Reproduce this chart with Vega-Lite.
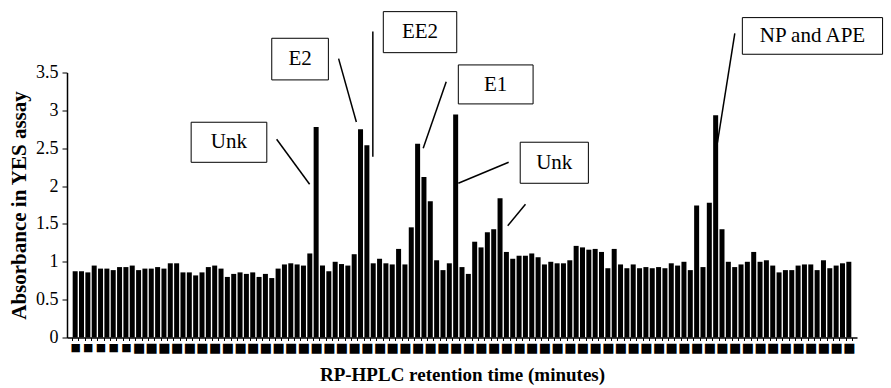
{
  "$schema": "https://vega.github.io/schema/vega-lite/v6.json",
  "width": 790,
  "height": 265,
  "autosize": {"type": "none"},
  "padding": {"left": 67, "top": 72.5, "right": 34, "bottom": 50.5},
  "background": "white",
  "config": {"view": {"stroke": null}},
  "resolve": {"axis": {"x": "independent", "y": "independent"}},
  "datasets": {
    "bars": [
      {"n":1,"v":0.875},{"n":2,"v":0.875},{"n":3,"v":0.86},{"n":4,"v":0.95},{"n":5,"v":0.91},{"n":6,"v":0.91},{"n":7,"v":0.89},{"n":8,"v":0.93},{"n":9,"v":0.93},{"n":10,"v":0.95},
      {"n":11,"v":0.89},{"n":12,"v":0.91},{"n":13,"v":0.91},{"n":14,"v":0.93},{"n":15,"v":0.91},{"n":16,"v":0.98},{"n":17,"v":0.98},{"n":18,"v":0.86},{"n":19,"v":0.86},{"n":20,"v":0.82},
      {"n":21,"v":0.86},{"n":22,"v":0.93},{"n":23,"v":0.95},{"n":24,"v":0.91},{"n":25,"v":0.80},{"n":26,"v":0.84},{"n":27,"v":0.86},{"n":28,"v":0.84},{"n":29,"v":0.86},{"n":30,"v":0.80},
      {"n":31,"v":0.84},{"n":32,"v":0.785},{"n":33,"v":0.91},{"n":34,"v":0.965},{"n":35,"v":0.98},{"n":36,"v":0.965},{"n":37,"v":0.95},{"n":38,"v":1.11},{"n":39,"v":2.78},{"n":40,"v":0.95},
      {"n":41,"v":0.875},{"n":42,"v":1.0},{"n":43,"v":0.97},{"n":44,"v":0.95},{"n":45,"v":1.10},{"n":46,"v":2.75},{"n":47,"v":2.54},{"n":48,"v":0.98},{"n":49,"v":1.04},{"n":50,"v":0.98},
      {"n":51,"v":0.965},{"n":52,"v":1.17},{"n":53,"v":0.965},{"n":54,"v":1.455},{"n":55,"v":2.56},{"n":56,"v":2.12},{"n":57,"v":1.80},{"n":58,"v":1.02},{"n":59,"v":0.89},{"n":60,"v":0.98},
      {"n":61,"v":2.945},{"n":62,"v":0.93},{"n":63,"v":0.84},{"n":64,"v":1.265},{"n":65,"v":1.19},{"n":66,"v":1.39},{"n":67,"v":1.43},{"n":68,"v":1.84},{"n":69,"v":1.13},{"n":70,"v":1.04},
      {"n":71,"v":1.08},{"n":72,"v":1.08},{"n":73,"v":1.11},{"n":74,"v":1.06},{"n":75,"v":0.965},{"n":76,"v":1.0},{"n":77,"v":0.98},{"n":78,"v":0.98},{"n":79,"v":1.02},{"n":80,"v":1.21},
      {"n":81,"v":1.19},{"n":82,"v":1.16},{"n":83,"v":1.17},{"n":84,"v":1.13},{"n":85,"v":0.915},{"n":86,"v":1.17},{"n":87,"v":0.965},{"n":88,"v":0.915},{"n":89,"v":0.965},{"n":90,"v":0.915},
      {"n":91,"v":0.93},{"n":92,"v":0.915},{"n":93,"v":0.93},{"n":94,"v":0.915},{"n":95,"v":0.98},{"n":96,"v":0.95},{"n":97,"v":1.0},{"n":98,"v":0.89},{"n":99,"v":1.745},{"n":100,"v":0.93},
      {"n":101,"v":1.78},{"n":102,"v":2.935},{"n":103,"v":1.43},{"n":104,"v":1.0},{"n":105,"v":0.93},{"n":106,"v":0.965},{"n":107,"v":1.0},{"n":108,"v":1.13},{"n":109,"v":1.0},{"n":110,"v":1.02},
      {"n":111,"v":0.95},{"n":112,"v":0.86},{"n":113,"v":0.89},{"n":114,"v":0.89},{"n":115,"v":0.95},{"n":116,"v":0.965},{"n":117,"v":0.965},{"n":118,"v":0.89},{"n":119,"v":1.02},{"n":120,"v":0.915},
      {"n":121,"v":0.95},{"n":122,"v":0.98},{"n":123,"v":1.0}
    ],
    "boxes": [
      {"label":"Unk","n":19.29,"n2":31.22,"v":2.843,"v2":2.314,"nc":25.25,"vc":2.58},
      {"label":"E2","n":32.0,"n2":40.93,"v":3.952,"v2":3.402,"nc":36.47,"vc":3.68},
      {"label":"EE2","n":49.59,"n2":61.17,"v":4.304,"v2":3.762,"nc":55.38,"vc":4.03},
      {"label":"E1","n":61.42,"n2":73.21,"v":3.6,"v2":3.085,"nc":67.3,"vc":3.34},
      {"label":"Unk","n":71.18,"n2":81.93,"v":2.579,"v2":2.037,"nc":76.55,"vc":2.31},
      {"label":"NP and APE","n":106.21,"n2":128.32,"v":4.225,"v2":3.741,"nc":117.27,"vc":3.98}
    ],
    "leaders": [
      {"n":32.77,"v":2.618,"n2":37.97,"v2":2.024},
      {"n":42.54,"v":3.683,"n2":45.34,"v2":2.847},
      {"n":47.94,"v":4.04,"n2":47.94,"v2":2.388},
      {"n":59.51,"v":3.379,"n2":55.88,"v2":2.499},
      {"n":69.36,"v":2.314,"n2":61.42,"v2":2.037},
      {"n":72.01,"v":1.76,"n2":69.21,"v2":1.477},
      {"n":105.02,"v":4.018,"n2":102.28,"v2":2.573}
    ]
  },
  "layer": [
    {
      "data": {"name": "bars"},
      "mark": {"type": "bar", "size": 5, "color": "black"},
      "encoding": {
        "x": {
          "field": "n", "type": "quantitative",
          "scale": {"domain": [0.5, 123.5], "nice": false, "zero": false},
          "axis": {
            "title": "RP-HPLC retention time (minutes)",
            "orient": "bottom",
            "titleFont": "Liberation Serif", "titleFontSize": 19, "titleFontWeight": "bold", "titleColor": "black", "titlePadding": 11,
            "values": [0.5,1.5,2.5,3.5,4.5,5.5,6.5,7.5,8.5,9.5,10.5,11.5,12.5,13.5,14.5,15.5,16.5,17.5,18.5,19.5,20.5,21.5,22.5,23.5,24.5,25.5,26.5,27.5,28.5,29.5,30.5,31.5,32.5,33.5,34.5,35.5,36.5,37.5,38.5,39.5,40.5,41.5,42.5,43.5,44.5,45.5,46.5,47.5,48.5,49.5,50.5,51.5,52.5,53.5,54.5,55.5,56.5,57.5,58.5,59.5,60.5,61.5,62.5,63.5,64.5,65.5,66.5,67.5,68.5,69.5,70.5,71.5,72.5,73.5,74.5,75.5,76.5,77.5,78.5,79.5,80.5,81.5,82.5,83.5,84.5,85.5,86.5,87.5,88.5,89.5,90.5,91.5,92.5,93.5,94.5,95.5,96.5,97.5,98.5,99.5,100.5,101.5,102.5,103.5,104.5,105.5,106.5,107.5,108.5,109.5,110.5,111.5,112.5,113.5,114.5,115.5,116.5,117.5,118.5,119.5,120.5,121.5,122.5,123.5],
            "labelExpr": "(datum.value - 0.5) % 2 == 1 ? '■' : ''",
            "labelOffset": -3.2,
            "labelOverlap": false,
            "labelFlush": false,
            "labelFont": "DejaVu Sans",
            "labelFontSize": {"condition": {"test": "datum.value < 10", "value": 11}, "value": 13},
            "labelColor": "black",
            "labelPadding": 1,
            "labelBound": false,
            "tickSize": 3, "tickColor": "black", "tickWidth": 1,
            "domainColor": "black", "domainWidth": 1.5,
            "grid": false
          }
        },
        "y": {
          "field": "v", "type": "quantitative",
          "scale": {"domain": [0, 3.5], "nice": false},
          "axis": {
            "title": "Absorbance in YES assay",
            "orient": "left",
            "titleFont": "Liberation Serif", "titleFontSize": 21, "titleFontWeight": "bold", "titleColor": "black", "titlePadding": 6,
            "values": [0, 0.5, 1, 1.5, 2, 2.5, 3, 3.5],
            "labelExpr": "datum.value + ''",
            "labelOverlap": false,
            "labelFont": "Liberation Serif", "labelFontSize": 18, "labelColor": "black", "labelPadding": 4,
            "tickSize": 5, "tickColor": "black",
            "domainColor": "black", "domainWidth": 1.5,
            "grid": false
          }
        }
      }
    },
    {
      "data": {"name": "leaders"},
      "mark": {"type": "rule", "color": "black", "strokeWidth": 1.5},
      "encoding": {
        "x": {"field": "n", "type": "quantitative", "axis": null},
        "y": {"field": "v", "type": "quantitative", "axis": null},
        "x2": {"field": "n2"},
        "y2": {"field": "v2"}
      }
    },
    {
      "data": {"name": "boxes"},
      "mark": {"type": "rect", "fill": "white", "stroke": "black", "strokeWidth": 1},
      "encoding": {
        "x": {"field": "n", "type": "quantitative", "axis": null},
        "y": {"field": "v", "type": "quantitative", "axis": null},
        "x2": {"field": "n2"},
        "y2": {"field": "v2"}
      }
    },
    {
      "data": {"name": "boxes"},
      "mark": {"type": "text", "font": "Liberation Serif", "fontSize": 21, "color": "black", "align": "center", "baseline": "middle"},
      "encoding": {
        "x": {"field": "nc", "type": "quantitative", "axis": null},
        "y": {"field": "vc", "type": "quantitative", "axis": null},
        "text": {"field": "label"}
      }
    }
  ]
}
